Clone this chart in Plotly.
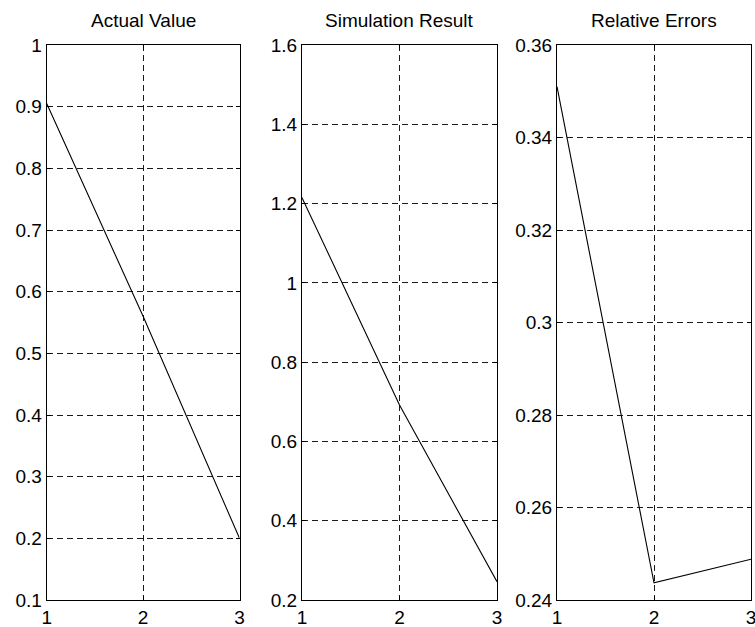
import plotly.graph_objects as go
from plotly.subplots import make_subplots

# Step index shared by all three panels
steps = [1, 2, 3]

# Panel series
actual_value = [0.905, 0.56, 0.2]
simulation_result = [1.215, 0.692, 0.246]
relative_errors = [0.351, 0.2437, 0.2488]

titles = ["Actual Value", "Simulation Result", "Relative Errors"]

# Y-axis ticks per panel
y_ticks_actual = [0.1, 0.2, 0.3, 0.4, 0.5, 0.6, 0.7, 0.8, 0.9, 1]
y_ticks_sim = [0.2, 0.4, 0.6, 0.8, 1, 1.2, 1.4, 1.6]
y_ticks_err = [0.24, 0.26, 0.28, 0.3, 0.32, 0.34, 0.36]
y_text_actual = ["0.1", "0.2", "0.3", "0.4", "0.5", "0.6", "0.7", "0.8", "0.9", "1"]
y_text_sim = ["0.2", "0.4", "0.6", "0.8", "1", "1.2", "1.4", "1.6"]
y_text_err = ["0.24", "0.26", "0.28", "0.3", "0.32", "0.34", "0.36"]

W, H = 755, 627
FONT = "Liberation Sans, Arial, sans-serif"

fig = make_subplots(rows=1, cols=3)

series = [actual_value, simulation_result, relative_errors]
for i, ys in enumerate(series, start=1):
    fig.add_trace(
        go.Scatter(x=steps, y=ys, mode="lines",
                   line=dict(color="black", width=1.1),
                   showlegend=False, hoverinfo="skip"),
        row=1, col=i,
    )

# Panel placement in pixels (left, right), shared top/bottom
panels_px = [(46.7, 239.5), (302.0, 497.0), (557.0, 751.0)]
top_px, bottom_px = 45.0, 600.0
y_dom = [1 - bottom_px / H, 1 - top_px / H]

y_specs = [
    ([0.1, 1.0], y_ticks_actual, y_text_actual),
    ([0.2, 1.6], y_ticks_sim, y_text_sim),
    ([0.24, 0.36], y_ticks_err, y_text_err),
]

axis_common = dict(
    showline=True, linecolor="black", linewidth=1, mirror="ticks",
    ticks="inside", ticklen=4, tickcolor="black", tickwidth=1,
    showgrid=True, gridcolor="#1a1a1a", gridwidth=1, griddash="6px,4px",
    zeroline=False, automargin=False, ticklabeloverflow="allow",
    tickfont=dict(family=FONT, size=19, color="black"),
)

for i, ((l, r), (yr, yt, ytxt)) in enumerate(zip(panels_px, y_specs), start=1):
    xa = "xaxis" if i == 1 else f"xaxis{i}"
    ya = "yaxis" if i == 1 else f"yaxis{i}"
    fig.layout[xa].update(
        domain=[l / W, r / W], range=[1, 3],
        tickvals=steps, ticktext=["1", "2", "3"], **axis_common,
    )
    fig.layout[ya].update(
        domain=y_dom, range=yr, tickvals=yt, ticktext=ytxt, **axis_common,
    )
    fig.add_annotation(
        text=titles[i - 1], xref="paper", yref="paper",
        x=(l + r) / 2 / W, y=1 - 21 / H, xanchor="center", yanchor="middle",
        showarrow=False, font=dict(family=FONT, size=19, color="black"),
    )

fig.update_layout(
    width=W, height=H,
    margin=dict(l=0, r=0, t=0, b=0, autoexpand=False),
    paper_bgcolor="white", plot_bgcolor="white",
)

fig.write_html("out.html")
